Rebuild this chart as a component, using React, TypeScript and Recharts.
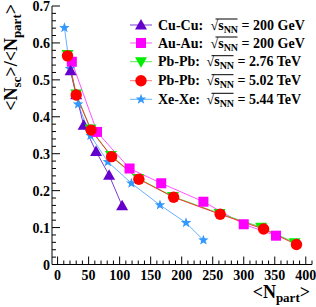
import React from 'react';
import { LineChart, Line, XAxis, YAxis, Customized } from 'recharts';

// ---- data ----
const cuCuNpart = [21, 30, 42, 62, 83, 104];
const cuCuRatio = [0.525, 0.46, 0.377, 0.306, 0.242, 0.159];
const auAuNpart = [23, 63.5, 116, 167, 235, 300, 352];
const auAuRatio = [0.549, 0.359, 0.26, 0.22, 0.17, 0.109, 0.078];
const pb276Npart = [16, 30, 53, 86, 130, 186, 261, 328, 382];
const pb276Ratio = [0.569, 0.462, 0.367, 0.295, 0.233, 0.184, 0.138, 0.101, 0.059];
const pb502Npart = [16, 30, 54, 87, 131, 187, 262, 332, 385];
const pb502Ratio = [0.565, 0.459, 0.364, 0.292, 0.231, 0.182, 0.136, 0.096, 0.054];
const xeXeNpart = [11, 20, 33, 53, 81, 119, 165, 207, 235];
const xeXeRatio = [0.641, 0.53, 0.434, 0.349, 0.278, 0.22, 0.161, 0.113, 0.066];

const xMajorTicks = [0, 50, 100, 150, 200, 250, 300, 350, 400];
const yMajorTicks = [0, 0.1, 0.2, 0.3, 0.4, 0.5, 0.6, 0.7];
const xAllTicks: number[] = [];
for (let i = 0; i <= 41; i++) xAllTicks.push(i * 10);
const yAllTicks: number[] = [];
for (let i = 0; i <= 35; i++) yAllTicks.push(Math.round(i * 2) / 100);

const legendNames = ['Cu-Cu:', 'Au-Au:', 'Pb-Pb:', 'Pb-Pb:', 'Xe-Xe:'];
const legendEnergies = ['200 GeV', '200 GeV', '2.76 TeV', '5.02 TeV', '5.44 TeV'];

const zip = (xs: number[], ys: number[]) => xs.map((x, i) => ({ x, y: ys[i] }));

const FONT = '"Liberation Serif", "Times New Roman", serif';

const C_CU = '#6600cc';
const C_AU = '#ff00ff';
const C_PB2 = '#00ee00';
const C_PB5 = '#ff0000';
const C_XE = '#3399ff';

const isXMajor = (v: number) => xMajorTicks.indexOf(v) >= 0 || Math.abs(v % 50) < 1e-6;
const isYMajor = (v: number) => Math.round(v * 100) % 10 === 0;

// ---- marker shapes ----
const TriUp = ({ cx, cy, color, r = 6 }: any) => (
  <path d={`M${cx},${cy - r} L${cx + r},${cy + r * 0.75} L${cx - r},${cy + r * 0.75} Z`} fill={color} />
);
const TriDown = ({ cx, cy, color, r = 6 }: any) => (
  <path d={`M${cx},${cy + r} L${cx + r},${cy - r * 0.75} L${cx - r},${cy - r * 0.75} Z`} fill={color} />
);
const Square = ({ cx, cy, color, r = 5 }: any) => (
  <rect x={cx - r} y={cy - r} width={2 * r} height={2 * r} fill={color} />
);
const Circle = ({ cx, cy, color, r = 5.7 }: any) => <circle cx={cx} cy={cy} r={r} fill={color} />;
const Star = ({ cx, cy, color, r = 5.5 }: any) => {
  const pts: string[] = [];
  for (let i = 0; i < 10; i++) {
    const rr = i % 2 === 0 ? r : r * 0.42;
    const a = -Math.PI / 2 + (i * Math.PI) / 5;
    pts.push(`${cx + rr * Math.cos(a)},${cy + rr * Math.sin(a)}`);
  }
  return <polygon points={pts.join(' ')} fill={color} />;
};

// ---- ticks ----
const BottomTick = (props: any) => {
  const { x, y, payload } = props;
  const major = isXMajor(payload.value);
  return (
    <g>
      <line x1={x} x2={x} y1={y} y2={y - (major ? 8 : 4)} stroke="#000" strokeWidth={1} />
      {major && payload.value <= 400 ? (
        <text x={x} y={y + 15} textAnchor="middle" fontFamily={FONT} fontWeight="bold" fontSize={14} fill="#000">
          {payload.value}
        </text>
      ) : null}
    </g>
  );
};
const TopTick = (props: any) => {
  const { x, y, payload } = props;
  const major = isXMajor(payload.value);
  return <line x1={x} x2={x} y1={y} y2={y + (major ? 8 : 4)} stroke="#000" strokeWidth={1} />;
};
const LeftTick = (props: any) => {
  const { x, y, payload } = props;
  const major = isYMajor(payload.value);
  const label = payload.value === 0 ? '0' : payload.value.toFixed(1);
  return (
    <g>
      <line x1={x} x2={x + (major ? 8 : 4)} y1={y} y2={y} stroke="#000" strokeWidth={1} />
      {major ? (
        <text x={x - 2} y={y + 5} textAnchor="end" fontFamily={FONT} fontWeight="bold" fontSize={14} fill="#000">
          {label}
        </text>
      ) : null}
    </g>
  );
};
const RightTick = (props: any) => {
  const { x, y, payload } = props;
  const major = isYMajor(payload.value);
  return <line x1={x} x2={x - (major ? 8 : 4)} y1={y} y2={y} stroke="#000" strokeWidth={1} />;
};

// ---- legend & titles ----
const markerFor = (i: number, cx: number, cy: number) => {
  switch (i) {
    case 0:
      return <TriUp cx={cx} cy={cy} color={C_CU} />;
    case 1:
      return <Square cx={cx} cy={cy} color={C_AU} />;
    case 2:
      return <TriDown cx={cx} cy={cy} color={C_PB2} />;
    case 3:
      return <Circle cx={cx} cy={cy} color={C_PB5} />;
    default:
      return <Star cx={cx} cy={cy} color={C_XE} />;
  }
};
const legendLineColors = ['#7a3ad6', '#ff55ff', '#55ee55', '#ff7777', '#66b2ff'];
const rowY = [25, 43, 61.7, 80.7, 99.3];
const sqrtX = [210.5, 210.5, 206.5, 206.5, 206.5];

const Overlay = () => (
  <g>
    {legendNames.map((name, i) => {
      const cy = rowY[i];
      const base = cy + 4.5;
      const sx = sqrtX[i];
      return (
        <g key={i}>
          <line x1={130} x2={152} y1={cy} y2={cy} stroke={legendLineColors[i]} strokeWidth={1} />
          {markerFor(i, 141, cy)}
          <text x={158} y={base} fontFamily={FONT} fontWeight="bold" fontSize={14} fill="#000">
            {name}
          </text>
          <text x={sx} y={base} fontFamily={FONT} fontWeight="bold" fontSize={14} fill="#000">
            √<tspan>s</tspan>
            <tspan dy={3} fontSize={10}>NN</tspan>
            <tspan dy={-3}>{' = ' + legendEnergies[i]}</tspan>
          </text>
          <line x1={sx + 5} x2={sx + 27} y1={base - 10.5} y2={base - 10.5} stroke="#000" strokeWidth={1} />
        </g>
      );
    })}
    <text transform="translate(17,4) rotate(-90)" textAnchor="end" fontFamily={FONT} fontWeight="bold" fontSize={18} fill="#000">
      {'<N'}
      <tspan dy={4} fontSize={13}>sc</tspan>
      <tspan dy={-4}>{'>/<N'}</tspan>
      <tspan dy={4} fontSize={13}>part</tspan>
      <tspan dy={-4}>{'>'}</tspan>
    </text>
    <text x={310} y={298} textAnchor="end" fontFamily={FONT} fontWeight="bold" fontSize={18} fill="#000">
      {'<N'}
      <tspan dy={4} fontSize={13}>part</tspan>
      <tspan dy={-4}>{'>'}</tspan>
    </text>
  </g>
);

const series = [
  { key: 'xe', data: zip(xeXeNpart, xeXeRatio), line: '#66b2ff', Shape: Star, color: C_XE },
  { key: 'au', data: zip(auAuNpart, auAuRatio), line: '#ff55ff', Shape: Square, color: C_AU },
  { key: 'cu', data: zip(cuCuNpart, cuCuRatio), line: '#7a3ad6', Shape: TriUp, color: C_CU },
  { key: 'pb2', data: zip(pb276Npart, pb276Ratio), line: '#33ee33', Shape: TriDown, color: C_PB2 },
  { key: 'pb5', data: zip(pb502Npart, pb502Ratio), line: '#ff3333', Shape: Circle, color: C_PB5 },
];

export default function App() {
  return (
    <div style={{ position: 'absolute', left: 0, top: 0, width: 316, height: 307, background: '#fff' }}>
      <LineChart width={316} height={307} margin={{ top: 6, right: 4, bottom: 0, left: 0 }}>
        <XAxis
          xAxisId="bottom"
          type="number"
          dataKey="x"
          domain={[-9, 410]}
          allowDataOverflow
          ticks={xAllTicks}
          interval={0}
          tickSize={0}
          tickMargin={0}
          height={42.5}
          stroke="#000"
          tick={<BottomTick />}
          tickLine={false}
        />
        <XAxis
          xAxisId="top"
          orientation="top"
          type="number"
          dataKey="x"
          domain={[-9, 410]}
          allowDataOverflow
          ticks={xAllTicks}
          interval={0}
          tickSize={0}
          tickMargin={0}
          height={0}
          stroke="#000"
          tick={<TopTick />}
          tickLine={false}
        />
        <YAxis
          yAxisId="left"
          type="number"
          domain={[0, 0.7]}
          allowDataOverflow
          ticks={yAllTicks}
          interval={0}
          tickSize={0}
          tickMargin={0}
          width={52}
          stroke="#000"
          tick={<LeftTick />}
          tickLine={false}
        />
        <YAxis
          yAxisId="right"
          orientation="right"
          type="number"
          domain={[0, 0.7]}
          allowDataOverflow
          ticks={yAllTicks}
          interval={0}
          tickSize={0}
          tickMargin={0}
          width={0}
          stroke="#000"
          tick={<RightTick />}
          tickLine={false}
        />
        {series.map((s) => (
          <Line
            key={s.key}
            xAxisId="bottom"
            yAxisId="left"
            data={s.data}
            dataKey="y"
            stroke={s.line}
            strokeWidth={1}
            isAnimationActive={false}
            dot={(p: any) => <s.Shape key={p.index} cx={p.cx} cy={p.cy} color={s.color} />}
            activeDot={false}
          />
        ))}
        <Customized component={Overlay} />
      </LineChart>
    </div>
  );
}
